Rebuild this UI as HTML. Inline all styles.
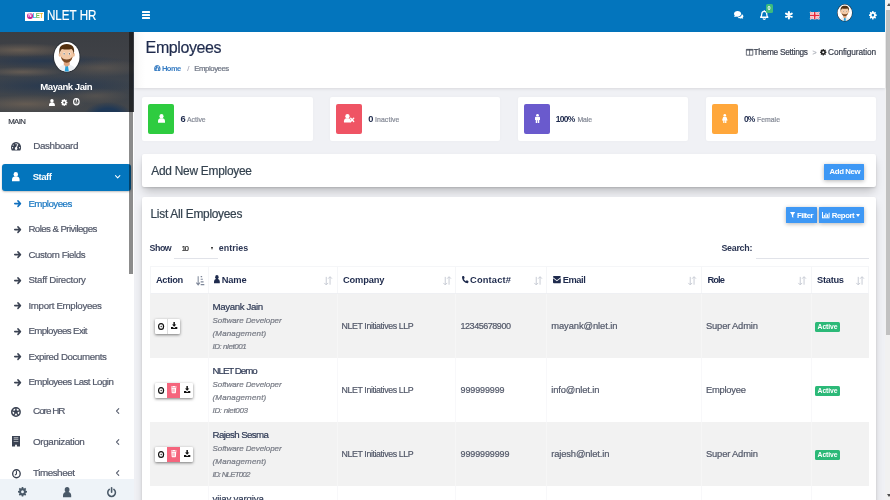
<!DOCTYPE html>
<html lang="en">
<head>
<meta charset="utf-8">
<title>NLET HR - Employees</title>
<style>
*{box-sizing:border-box;margin:0;padding:0}
html,body{width:890px;height:500px;overflow:hidden;background:#f0f1f5;font-family:"Liberation Sans",sans-serif;color:#2b3553}
svg{fill:currentColor;overflow:visible}
#app{position:relative;width:890px;height:500px;overflow:hidden}
#app div{position:absolute}
.burger i{display:block;height:1.7px;background:#fff;margin-bottom:1.3px;border-radius:.5px}
#prof{background:
 radial-gradient(ellipse 24px 13px at 108px 83px,#1f3856 50%,rgba(31,56,86,0) 100%),
 radial-gradient(ellipse 52px 7px at 20px 18px,rgba(120,104,88,.7),rgba(120,104,88,0) 100%),
 radial-gradient(ellipse 42px 5px at 22px 40px,rgba(120,104,88,.65),rgba(120,104,88,0) 100%),
 radial-gradient(ellipse 45px 9px at 102px 36px,rgba(106,95,84,.55),rgba(106,95,84,0) 100%),
 radial-gradient(ellipse 60px 9px at 26px 72px,rgba(116,101,86,.7),rgba(116,101,86,0) 100%),
 radial-gradient(ellipse 34px 8px at 96px 64px,rgba(104,94,84,.5),rgba(104,94,84,0) 100%),
 radial-gradient(ellipse 80px 7px at 45px 29px,rgba(34,54,80,.8),rgba(34,54,80,0) 100%),
 radial-gradient(ellipse 85px 10px at 55px 54px,rgba(34,54,80,.8),rgba(34,54,80,0) 100%),
 linear-gradient(#3b3e43 0,#3f4146 30%,#3c434c 60%,#43464a 100%)}
.panel{background:#fff;border-radius:2px;box-shadow:0 1px 2px rgba(0,0,0,.12),0 6px 9px -2px rgba(0,0,0,.22)}
.card{background:#fff;border-radius:2px;box-shadow:0 0 3px rgba(0,0,0,.03)}
.btn{background:#3e98f5;border-radius:.5px;box-shadow:0 1px 4px rgba(0,0,0,.3)}
.bg{background:#fff;border-radius:1px;box-shadow:0 1px 3px rgba(0,0,0,.5);overflow:hidden}
</style>
</head>
<body>
<div id="app">
<div style="position:absolute;left:0px;top:0px;width:885px;height:32px;background:#0375bd"></div>
<div style="position:absolute;left:25px;top:11.8px;width:18.9px;height:9.2px;background:#fff"></div>
<div style="position:absolute;left:27px;top:13.1px;width:5.6px;height:5.8px;background:radial-gradient(circle at 40% 35%,#d63aa6,#b0128a);border-radius:50%;color:#fff;font-size:4.6px;line-height:5.8px;font-weight:bold;text-align:center">N</div>
<div style="position:absolute;left:32.6px;top:12.4px;width:10.2px;height:8px;font-size:6.3px;line-height:8px;font-weight:bold;white-space:nowrap;letter-spacing:-.6px;color:transparent;background:linear-gradient(90deg,#2fb3e6 0,#2fb3e6 30%,#6cc24a 36%,#6cc24a 62%,#f2b630 70%,#f2b630 100%);-webkit-background-clip:text;background-clip:text">LET</div>
<div style="position:absolute;left:47.0px;top:7px;font-size:13.8px;line-height:18px;color:#fff;white-space:nowrap;-webkit-text-stroke:0.2px currentColor;transform:scaleX(0.840);transform-origin:0 50%;">NLET HR</div>
<div class="burger" style="left:142px;top:11px;width:8.3px;height:8px"><i></i><i></i><i></i></div>
<svg viewBox="0.50 1.00 17.00 13.62" preserveAspectRatio="none" style="position:absolute;left:733.6px;top:11.1px;width:9.4px;height:7.8px;color:#fff;fill:#fff;"><path d="M7 1C3.400 1 .5 3.200.5 6c0 1.200.5 2.300 1.400 3.100C1.600 10.200.8 11 .6 11.300c.9.200 2.400-.2 3.500-.9.900.4 1.900.6 2.900.6 3.600 0 6.500-2.200 6.500-5S10.600 1 7 1z"/><path d="M14.600 6.600c1.700.6 2.900 2 2.900 3.500 0 1-.5 1.900-1.200 2.600.3 1 .8 1.600 1.100 1.900-.9.200-2.200-.2-3.200-.8-.7.300-1.500.4-2.300.4-2 0-3.700-.8-4.700-2.100 4.300-.1 7.200-2.600 7.400-5.500z"/></svg>
<svg viewBox="0.25 0.06 15.50 17.94" preserveAspectRatio="none" style="position:absolute;left:759.7px;top:9.9px;width:8.5px;height:9.9px;color:#fff;fill:#fff;"><path d="M8 1.200v1.200M8 2.400c-3 0-4.600 2.300-4.600 5.200 0 3.300-1 4.500-2 5.600h13.200c-1-1.100-2-2.300-2-5.600 0-2.900-1.600-5.200-4.600-5.200z" fill="none" stroke="currentColor" stroke-width="2.300" stroke-linejoin="round" stroke-linecap="round"/><path d="M6 15a2 2 0 004 0" fill="none" stroke="currentColor" stroke-width="2"/></svg>
<div style="position:absolute;left:765.5px;top:4px;width:7.2px;height:8.6px;border-radius:1.5px;background:#3dbb7d;color:#fff;font-size:5.5px;line-height:8.6px;font-weight:bold;text-align:center">0</div>
<svg viewBox="0.38 -0.50 15.25 17.00" preserveAspectRatio="none" style="position:absolute;left:785.2px;top:10.8px;width:7.8px;height:8.4px;color:#fff;fill:#fff;"><path d="M8 1.500v13M2.400 4.700l11.200 6.600M2.400 11.300l11.200-6.600" fill="none" stroke="currentColor" stroke-width="4" stroke-linecap="round"/></svg>
<svg style="position:absolute;left:810.4px;top:12px;width:9.4px;height:7.2px" viewBox="0 0 18 14" preserveAspectRatio="none"><rect width="18" height="14" fill="#f3b5bb"/><path d="M0 0l18 14M18 0L0 14" stroke="#fff" stroke-width="2.500"/><path d="M0 0l18 14M18 0L0 14" stroke="#e23b4a" stroke-width="1"/><path d="M9 0v14M0 7h18" stroke="#fff" stroke-width="5"/><path d="M9 0v14M0 7h18" stroke="#e8283c" stroke-width="3"/></svg>
<svg viewBox="0 0 28 31" preserveAspectRatio="none" style="position:absolute;left:836.8px;top:4.3px;width:15.6px;height:17.6px;"><clipPath id="fclip1"><ellipse cx="14" cy="15.500" rx="13" ry="14.500"/></clipPath> <ellipse cx="14" cy="15.500" rx="14" ry="15.500" fill="#2c3138"/> <ellipse cx="14" cy="15.500" rx="13" ry="14.500" fill="#fff"/> <g clip-path="url(#fclip1)"> <path d="M4.500 31c0-5 3.500-8 9.500-8s9.500 3 9.500 8z" fill="#eceff3"/> <path d="M12.900 23.500h2.200l1.200 7.500h-4.600z" fill="#26a0da"/> <path d="M11 19h6v4.500l-3 1.800-3-1.800z" fill="#e0a57f"/> <ellipse cx="14" cy="12.800" rx="6.800" ry="7.800" fill="#f2c9a7"/> <ellipse cx="7" cy="13.500" rx="1.300" ry="2" fill="#eebf9a"/><ellipse cx="21" cy="13.500" rx="1.300" ry="2" fill="#eebf9a"/> <path d="M6.800 13C5.300 6.500 8.200 3 14 3s8.700 3.500 7.200 10c-.4-2.500-1.200-4.100-2.300-5.200-3.300.8-6.500.8-9.800 0-1.100 1.100-1.900 2.700-2.300 5.200z" fill="#53300f"/> <path d="M8.200 15.300c.6 3.900 2.800 6 5.800 6s5.200-2.100 5.800-6c-1.100 2.100-3 2.900-5.800 2.900s-4.700-.8-5.800-2.900z" fill="#7a4a26"/> <ellipse cx="11.300" cy="12.500" rx="1.100" ry="1.200" fill="#fff"/><ellipse cx="16.700" cy="12.500" rx="1.100" ry="1.200" fill="#fff"/> <circle cx="11.300" cy="12.600" r=".7" fill="#2d2d2d"/><circle cx="16.700" cy="12.600" r=".7" fill="#2d2d2d"/> </g></svg>
<svg viewBox="0.12 0.12 15.75 15.75" preserveAspectRatio="none" style="position:absolute;left:868.9px;top:10.8px;width:7.7px;height:8.4px;color:#fff;fill:#fff;"><path fill-rule="evenodd" d="M6.43 2.11L6.65 0.12L9.35 0.12L9.57 2.11L11.06 2.72L12.62 1.47L14.53 3.38L13.28 4.94L13.89 6.43L15.88 6.65L15.88 9.35L13.89 9.57L13.28 11.06L14.53 12.62L12.62 14.53L11.06 13.28L9.57 13.89L9.35 15.88L6.65 15.88L6.43 13.89L4.94 13.28L3.38 14.53L1.47 12.62L2.72 11.06L2.11 9.57L0.12 9.35L0.12 6.65L2.11 6.43L2.72 4.94L1.47 3.38L3.38 1.47L4.94 2.72zM8 5.5a2.5 2.5 0 100 5.0a2.5 2.5 0 100 -5.0z"/></svg>
<div style="position:absolute;left:885px;top:0px;width:5px;height:500px;background:#f1f1f1"></div>
<div style="position:absolute;left:886px;top:10px;width:4px;height:325px;background:#c1c1c1"></div>
<div style="position:absolute;left:886.5px;top:3px;width:0px;height:0px;border:2.5px solid transparent;border-top:0;border-bottom:3px solid #505050"></div>
<div style="position:absolute;left:886.5px;top:494px;width:0px;height:0px;border:2.5px solid transparent;border-bottom:0;border-top:3px solid #505050"></div>
<div style="position:absolute;left:0px;top:32px;width:133.5px;height:468px;background:#fff"></div>
<div id="prof" style="left:0;top:32px;width:133.5px;height:80px;overflow:hidden"></div>
<svg viewBox="0 0 28 31" preserveAspectRatio="none" style="position:absolute;left:52.7px;top:41.0px;width:27.5px;height:31.6px;"><clipPath id="fclip2"><ellipse cx="14" cy="15.500" rx="13" ry="14.500"/></clipPath> <ellipse cx="14" cy="15.500" rx="14" ry="15.500" fill="#2c3138"/> <ellipse cx="14" cy="15.500" rx="13" ry="14.500" fill="#fff"/> <g clip-path="url(#fclip2)"> <path d="M4.500 31c0-5 3.500-8 9.500-8s9.500 3 9.500 8z" fill="#eceff3"/> <path d="M12.900 23.500h2.200l1.200 7.500h-4.600z" fill="#26a0da"/> <path d="M11 19h6v4.500l-3 1.800-3-1.800z" fill="#e0a57f"/> <ellipse cx="14" cy="12.800" rx="6.800" ry="7.800" fill="#f2c9a7"/> <ellipse cx="7" cy="13.500" rx="1.300" ry="2" fill="#eebf9a"/><ellipse cx="21" cy="13.500" rx="1.300" ry="2" fill="#eebf9a"/> <path d="M6.800 13C5.300 6.500 8.200 3 14 3s8.700 3.500 7.200 10c-.4-2.500-1.200-4.100-2.300-5.200-3.300.8-6.500.8-9.800 0-1.100 1.100-1.900 2.700-2.300 5.200z" fill="#53300f"/> <path d="M8.200 15.300c.6 3.900 2.800 6 5.800 6s5.200-2.100 5.800-6c-1.100 2.100-3 2.900-5.800 2.900s-4.700-.8-5.800-2.900z" fill="#7a4a26"/> <ellipse cx="11.300" cy="12.500" rx="1.100" ry="1.200" fill="#fff"/><ellipse cx="16.700" cy="12.500" rx="1.100" ry="1.200" fill="#fff"/> <circle cx="11.300" cy="12.600" r=".7" fill="#2d2d2d"/><circle cx="16.700" cy="12.600" r=".7" fill="#2d2d2d"/> </g></svg>
<div style="position:absolute;left:40.3px;top:80px;font-size:9.6px;line-height:13px;color:#fff;white-space:nowrap;letter-spacing:-0.48px;font-weight:bold;">Mayank Jain</div>
<svg viewBox="1.00 0.31 14.00 15.69" preserveAspectRatio="none" style="position:absolute;left:49.2px;top:98.8px;width:5.9px;height:7.1px;color:#fff;fill:#fff;"><circle cx="8" cy="4.400" r="4.100"/><path d="M1 16v-2.600C1 10 3.400 8 6 8h4c2.600 0 5 2 5 5.400V16z"/></svg>
<svg viewBox="0.12 0.12 15.75 15.75" preserveAspectRatio="none" style="position:absolute;left:60.6px;top:98.8px;width:6.4px;height:7.1px;color:#fff;fill:#fff;"><path fill-rule="evenodd" d="M6.43 2.11L6.65 0.12L9.35 0.12L9.57 2.11L11.06 2.72L12.62 1.47L14.53 3.38L13.28 4.94L13.89 6.43L15.88 6.65L15.88 9.35L13.89 9.57L13.28 11.06L14.53 12.62L12.62 14.53L11.06 13.28L9.57 13.89L9.35 15.88L6.65 15.88L6.43 13.89L4.94 13.28L3.38 14.53L1.47 12.62L2.72 11.06L2.11 9.57L0.12 9.35L0.12 6.65L2.11 6.43L2.72 4.94L1.47 3.38L3.38 1.47L4.94 2.72zM8 5.5a2.5 2.5 0 100 5.0a2.5 2.5 0 100 -5.0z"/></svg>
<svg viewBox="0.00 0.00 16.00 16.00" preserveAspectRatio="none" style="position:absolute;left:72.7px;top:98.3px;width:6.7px;height:7.6px;color:#fff;fill:#fff;"><path fill-rule="evenodd" d="M8 0a8 8 0 100 16A8 8 0 008 0zm0 2.800a5.200 5.200 0 110 10.400A5.200 5.200 0 018 2.800z"/><path d="M6.800 1.500h2.400v6.200H6.800z"/><path d="M4.200 9.500a4 4 0 007.600 0z" opacity=".55"/></svg>
<div style="position:absolute;left:8.3px;top:116px;font-size:7.8px;line-height:11px;color:#3a3f4a;white-space:nowrap;letter-spacing:-0.67px;-webkit-text-stroke:0.2px currentColor;">MAIN</div>
<svg viewBox="0.00 1.50 16.00 12.50" preserveAspectRatio="none" style="position:absolute;left:11.2px;top:141.9px;width:10.1px;height:8.5px;color:#3a4252;fill:#3a4252;"><path fill-rule="evenodd" d="M8 1.500a8 8 0 00-6.900 12c.2.300.5.500.9.500h12c.4 0 .7-.2.900-.500A8 8 0 008 1.500zM8 3a1 1 0 110 2 1 1 0 010-2zM3.500 5a1 1 0 110 2 1 1 0 010-2zM2.500 9a1 1 0 110 2 1 1 0 010-2zm11 0a1 1 0 110 2 1 1 0 010-2zM11.800 4.200l-2.300 5.400a2 2 0 11-1.400-.6l2.300-5.400z"/></svg>
<div style="position:absolute;left:33.2px;top:139px;font-size:9.9px;line-height:13px;color:#525869;white-space:nowrap;letter-spacing:-0.38px;-webkit-text-stroke:0.2px currentColor;">Dashboard</div>
<div style="position:absolute;left:2.2px;top:164.2px;width:128.6px;height:26.5px;background:#0375bd;border-radius:3px;box-shadow:0 1px 2px rgba(0,0,0,.25)"></div>
<svg viewBox="1.00 0.31 14.00 15.69" preserveAspectRatio="none" style="position:absolute;left:12.4px;top:171.7px;width:7.6px;height:9.3px;color:#fff;fill:#fff;"><circle cx="8" cy="4.400" r="4.100"/><path d="M1 16v-2.600C1 10 3.400 8 6 8h4c2.600 0 5 2 5 5.400V16z"/></svg>
<div style="position:absolute;left:32.7px;top:170px;font-size:9.5px;line-height:13px;color:#fff;white-space:nowrap;letter-spacing:-0.48px;font-weight:bold;">Staff</div>
<svg viewBox="1.81 4.31 12.38 7.38" preserveAspectRatio="none" style="position:absolute;left:115.0px;top:175.3px;width:5.4px;height:3.4px;color:#fff;fill:#fff;"><path d="M3 5.500l5 5 5-5" fill="none" stroke="currentColor" stroke-width="2.400" stroke-linecap="round" stroke-linejoin="round"/></svg>
<svg viewBox="-0.12 0.88 15.75 14.25" preserveAspectRatio="none" style="position:absolute;left:14.4px;top:200.1px;width:7.2px;height:7.2px;color:#0f6fbe;fill:#0f6fbe;"><path d="M1.500 8h12M8.500 2.500L14 8l-5.500 5.500" fill="none" stroke="currentColor" stroke-width="3.300" stroke-linecap="round" stroke-linejoin="round"/></svg>
<div style="position:absolute;left:28.4px;top:197px;font-size:9.7px;line-height:13px;color:#1a78c2;white-space:nowrap;letter-spacing:-0.50px;-webkit-text-stroke:0.2px currentColor;">Employees</div>
<svg viewBox="-0.12 0.88 15.75 14.25" preserveAspectRatio="none" style="position:absolute;left:14.4px;top:225.6px;width:7.2px;height:7.2px;color:#3a4252;fill:#3a4252;"><path d="M1.500 8h12M8.500 2.500L14 8l-5.500 5.500" fill="none" stroke="currentColor" stroke-width="3.300" stroke-linecap="round" stroke-linejoin="round"/></svg>
<div style="position:absolute;left:28.4px;top:222px;font-size:9.7px;line-height:13px;color:#525869;white-space:nowrap;letter-spacing:-0.57px;-webkit-text-stroke:0.2px currentColor;">Roles &amp; Privileges</div>
<svg viewBox="-0.12 0.88 15.75 14.25" preserveAspectRatio="none" style="position:absolute;left:14.4px;top:251.2px;width:7.2px;height:7.2px;color:#3a4252;fill:#3a4252;"><path d="M1.500 8h12M8.500 2.500L14 8l-5.500 5.500" fill="none" stroke="currentColor" stroke-width="3.300" stroke-linecap="round" stroke-linejoin="round"/></svg>
<div style="position:absolute;left:28.4px;top:248px;font-size:9.7px;line-height:13px;color:#525869;white-space:nowrap;letter-spacing:-0.40px;-webkit-text-stroke:0.2px currentColor;">Custom Fields</div>
<svg viewBox="-0.12 0.88 15.75 14.25" preserveAspectRatio="none" style="position:absolute;left:14.4px;top:276.7px;width:7.2px;height:7.2px;color:#3a4252;fill:#3a4252;"><path d="M1.500 8h12M8.500 2.500L14 8l-5.500 5.500" fill="none" stroke="currentColor" stroke-width="3.300" stroke-linecap="round" stroke-linejoin="round"/></svg>
<div style="position:absolute;left:28.4px;top:273px;font-size:9.7px;line-height:13px;color:#525869;white-space:nowrap;letter-spacing:-0.26px;-webkit-text-stroke:0.2px currentColor;">Staff Directory</div>
<svg viewBox="-0.12 0.88 15.75 14.25" preserveAspectRatio="none" style="position:absolute;left:14.4px;top:302.2px;width:7.2px;height:7.2px;color:#3a4252;fill:#3a4252;"><path d="M1.500 8h12M8.500 2.500L14 8l-5.500 5.500" fill="none" stroke="currentColor" stroke-width="3.300" stroke-linecap="round" stroke-linejoin="round"/></svg>
<div style="position:absolute;left:28.4px;top:299px;font-size:9.7px;line-height:13px;color:#525869;white-space:nowrap;letter-spacing:-0.30px;-webkit-text-stroke:0.2px currentColor;">Import Employees</div>
<svg viewBox="-0.12 0.88 15.75 14.25" preserveAspectRatio="none" style="position:absolute;left:14.4px;top:327.8px;width:7.2px;height:7.2px;color:#3a4252;fill:#3a4252;"><path d="M1.500 8h12M8.500 2.500L14 8l-5.500 5.500" fill="none" stroke="currentColor" stroke-width="3.300" stroke-linecap="round" stroke-linejoin="round"/></svg>
<div style="position:absolute;left:28.4px;top:324px;font-size:9.7px;line-height:13px;color:#525869;white-space:nowrap;letter-spacing:-0.59px;-webkit-text-stroke:0.2px currentColor;">Employees Exit</div>
<svg viewBox="-0.12 0.88 15.75 14.25" preserveAspectRatio="none" style="position:absolute;left:14.4px;top:353.3px;width:7.2px;height:7.2px;color:#3a4252;fill:#3a4252;"><path d="M1.500 8h12M8.500 2.500L14 8l-5.500 5.500" fill="none" stroke="currentColor" stroke-width="3.300" stroke-linecap="round" stroke-linejoin="round"/></svg>
<div style="position:absolute;left:28.4px;top:350px;font-size:9.7px;line-height:13px;color:#525869;white-space:nowrap;letter-spacing:-0.38px;-webkit-text-stroke:0.2px currentColor;">Expired Documents</div>
<svg viewBox="-0.12 0.88 15.75 14.25" preserveAspectRatio="none" style="position:absolute;left:14.4px;top:378.8px;width:7.2px;height:7.2px;color:#3a4252;fill:#3a4252;"><path d="M1.500 8h12M8.500 2.500L14 8l-5.500 5.500" fill="none" stroke="currentColor" stroke-width="3.300" stroke-linecap="round" stroke-linejoin="round"/></svg>
<div style="position:absolute;left:28.4px;top:375px;font-size:9.7px;line-height:13px;color:#525869;white-space:nowrap;letter-spacing:-0.52px;-webkit-text-stroke:0.2px currentColor;">Employees Last Login</div>
<svg viewBox="0.00 0.00 16.00 16.00" preserveAspectRatio="none" style="position:absolute;left:11.1px;top:406.5px;width:9.9px;height:9.9px;color:#3a4252;fill:#3a4252;"><circle cx="8" cy="8" r="6.800" fill="none" stroke="currentColor" stroke-width="2.400"/><path d="M8 4.200l3.600 2.600-1.400 4.200H5.800L4.400 6.800z"/><path d="M8 1v3.800M1.400 6L5 7M14.600 6L11 7M3.800 13.800l2.300-3.300M12.200 13.800l-2.300-3.300" fill="none" stroke="currentColor" stroke-width="2.200"/></svg>
<div style="position:absolute;left:33.0px;top:404px;font-size:9.9px;line-height:13px;color:#525869;white-space:nowrap;letter-spacing:-1.00px;-webkit-text-stroke:0.2px currentColor;">Core HR</div>
<svg viewBox="3.69 1.19 8.12 13.62" preserveAspectRatio="none" style="position:absolute;left:115.9px;top:408.4px;width:3.3px;height:6px;color:#5a6070;fill:#5a6070;"><path d="M10.500 2.500L5 8l5.500 5.500" fill="none" stroke="currentColor" stroke-width="2.600" stroke-linecap="round" stroke-linejoin="round"/></svg>
<svg viewBox="2.50 0.50 11.00 15.00" preserveAspectRatio="none" style="position:absolute;left:12.0px;top:436.4px;width:8px;height:10.4px;color:#3a4252;fill:#3a4252;"><path fill-rule="evenodd" d="M2.500 0.500h11v15h-11zM4.800 2.800v.9h6.400v-.9zm0 2.600v.9h6.400v-.9zm0 2.600v.9h6.400V8zM6.800 13v2.500h2.400V13z"/></svg>
<div style="position:absolute;left:33.0px;top:435px;font-size:9.9px;line-height:13px;color:#525869;white-space:nowrap;letter-spacing:-0.38px;-webkit-text-stroke:0.2px currentColor;">Organization</div>
<svg viewBox="3.69 1.19 8.12 13.62" preserveAspectRatio="none" style="position:absolute;left:115.9px;top:439.0px;width:3.3px;height:6px;color:#5a6070;fill:#5a6070;"><path d="M10.500 2.500L5 8l5.500 5.500" fill="none" stroke="currentColor" stroke-width="2.600" stroke-linecap="round" stroke-linejoin="round"/></svg>
<svg viewBox="0.44 0.44 15.12 15.12" preserveAspectRatio="none" style="position:absolute;left:11.5px;top:468.5px;width:8.9px;height:9.5px;color:#3a4252;fill:#3a4252;"><circle cx="8" cy="8" r="6.400" fill="none" stroke="currentColor" stroke-width="2.300"/><path d="M8 4.200V8.400L6 9.800" fill="none" stroke="currentColor" stroke-width="1.900" stroke-linecap="round"/></svg>
<div style="position:absolute;left:33.0px;top:466px;font-size:9.9px;line-height:13px;color:#525869;white-space:nowrap;letter-spacing:-0.48px;-webkit-text-stroke:0.2px currentColor;">Timesheet</div>
<svg viewBox="3.69 1.19 8.12 13.62" preserveAspectRatio="none" style="position:absolute;left:115.9px;top:470.0px;width:3.3px;height:6px;color:#5a6070;fill:#5a6070;"><path d="M10.500 2.500L5 8l5.500 5.500" fill="none" stroke="currentColor" stroke-width="2.600" stroke-linecap="round" stroke-linejoin="round"/></svg>
<div style="position:absolute;left:129.3px;top:32px;width:4.2px;height:242px;background:rgba(0,0,0,.45)"></div>
<div style="position:absolute;left:0px;top:479px;width:133.5px;height:21px;background:#eef3f8"></div>
<svg viewBox="0.12 0.12 15.75 15.75" preserveAspectRatio="none" style="position:absolute;left:17.5px;top:487.2px;width:9px;height:9.6px;color:#4a5968;fill:#4a5968;"><path fill-rule="evenodd" d="M6.43 2.11L6.65 0.12L9.35 0.12L9.57 2.11L11.06 2.72L12.62 1.47L14.53 3.38L13.28 4.94L13.89 6.43L15.88 6.65L15.88 9.35L13.89 9.57L13.28 11.06L14.53 12.62L12.62 14.53L11.06 13.28L9.57 13.89L9.35 15.88L6.65 15.88L6.43 13.89L4.94 13.28L3.38 14.53L1.47 12.62L2.72 11.06L2.11 9.57L0.12 9.35L0.12 6.65L2.11 6.43L2.72 4.94L1.47 3.38L3.38 1.47L4.94 2.72zM8 5.5a2.5 2.5 0 100 5.0a2.5 2.5 0 100 -5.0z"/></svg>
<svg viewBox="1.00 0.31 14.00 15.69" preserveAspectRatio="none" style="position:absolute;left:62.6px;top:486.5px;width:8.2px;height:10.2px;color:#4a5968;fill:#4a5968;"><circle cx="8" cy="4.400" r="4.100"/><path d="M1 16v-2.600C1 10 3.400 8 6 8h4c2.600 0 5 2 5 5.400V16z"/></svg>
<svg viewBox="0.56 -0.50 14.88 16.19" preserveAspectRatio="none" style="position:absolute;left:106.7px;top:486.6px;width:9.2px;height:10.2px;color:#4a5968;fill:#4a5968;"><path d="M8 0.800v7" fill="none" stroke="currentColor" stroke-width="2.600" stroke-linecap="round"/><path d="M4.300 3.300a6.200 6.200 0 107.400 0" fill="none" stroke="currentColor" stroke-width="2.500" stroke-linecap="round"/></svg>
<div style="position:absolute;left:133.5px;top:32px;width:751.5px;height:55.5px;background:linear-gradient(90deg,#f3f3f3 0,#fbfbfb 5px,#fff 11px);box-shadow:0 1px 3px rgba(0,0,0,.1)"></div>
<div style="position:absolute;left:145.6px;top:37px;font-size:16.0px;line-height:21px;color:#1f2b4d;white-space:nowrap;letter-spacing:-0.39px;-webkit-text-stroke:0.2px currentColor;">Employees</div>
<svg viewBox="0.00 1.50 16.00 12.50" preserveAspectRatio="none" style="position:absolute;left:154.0px;top:65.3px;width:6.6px;height:6px;color:#3b7fc4;fill:#3b7fc4;"><path fill-rule="evenodd" d="M8 1.500a8 8 0 00-6.900 12c.2.300.5.500.9.500h12c.4 0 .7-.2.900-.500A8 8 0 008 1.500zM8 3a1 1 0 110 2 1 1 0 010-2zM3.500 5a1 1 0 110 2 1 1 0 010-2zM2.500 9a1 1 0 110 2 1 1 0 010-2zm11 0a1 1 0 110 2 1 1 0 010-2zM11.800 4.200l-2.300 5.400a2 2 0 11-1.400-.6l2.300-5.400z"/></svg>
<div style="position:absolute;left:162.0px;top:64px;font-size:7.6px;line-height:10px;color:#3b7fc4;white-space:nowrap;letter-spacing:-0.61px;font-weight:bold;">Home</div>
<div style="position:absolute;left:187.3px;top:64px;font-size:7.6px;line-height:10px;color:#aab;white-space:nowrap;-webkit-text-stroke:0.2px currentColor;">/</div>
<div style="position:absolute;left:194.3px;top:63px;font-size:7.8px;line-height:11px;color:#6b7280;white-space:nowrap;letter-spacing:-0.45px;-webkit-text-stroke:0.2px currentColor;">Employees</div>
<svg viewBox="0.44 1.44 15.12 13.12" preserveAspectRatio="none" style="position:absolute;left:745.7px;top:49.0px;width:7.2px;height:6.6px;color:#3c4250;fill:#3c4250;"><path d="M1.200 2.200h13.600v11.600H1.200zM8 2.200v11.600" fill="none" stroke="currentColor" stroke-width="1.500"/><path d="M1.200 2.200h13.600v2.200H1.200z"/></svg>
<div style="position:absolute;left:753.5px;top:47px;font-size:8.3px;line-height:11px;color:#3c4250;white-space:nowrap;letter-spacing:-0.28px;-webkit-text-stroke:0.2px currentColor;">Theme Settings</div>
<div style="position:absolute;left:812.5px;top:48px;font-size:7.0px;line-height:10px;color:#b0b4bc;white-space:nowrap;-webkit-text-stroke:0.2px currentColor;">&gt;</div>
<svg viewBox="0.12 0.12 15.75 15.75" preserveAspectRatio="none" style="position:absolute;left:820.2px;top:49.2px;width:6.5px;height:6.5px;color:#222;fill:#222;"><path fill-rule="evenodd" d="M6.43 2.11L6.65 0.12L9.35 0.12L9.57 2.11L11.06 2.72L12.62 1.47L14.53 3.38L13.28 4.94L13.89 6.43L15.88 6.65L15.88 9.35L13.89 9.57L13.28 11.06L14.53 12.62L12.62 14.53L11.06 13.28L9.57 13.89L9.35 15.88L6.65 15.88L6.43 13.89L4.94 13.28L3.38 14.53L1.47 12.62L2.72 11.06L2.11 9.57L0.12 9.35L0.12 6.65L2.11 6.43L2.72 4.94L1.47 3.38L3.38 1.47L4.94 2.72zM8 5.5a2.5 2.5 0 100 5.0a2.5 2.5 0 100 -5.0z"/></svg>
<div style="position:absolute;left:828.0px;top:47px;font-size:8.3px;line-height:11px;color:#3c4250;white-space:nowrap;letter-spacing:-0.11px;-webkit-text-stroke:0.2px currentColor;">Configuration</div>
<div class="card" style="left:142px;top:97.4px;width:170.5px;height:43.6px"></div>
<div style="position:absolute;left:148.3px;top:103.9px;width:25.8px;height:30.6px;background:#2ecc40;border-radius:2px"></div>
<svg viewBox="1.00 0.31 14.00 15.69" preserveAspectRatio="none" style="position:absolute;left:158.0px;top:114.2px;width:7px;height:8.8px;color:#fff;fill:#fff;"><circle cx="8" cy="4.400" r="4.100"/><path d="M1 16v-2.600C1 10 3.400 8 6 8h4c2.600 0 5 2 5 5.400V16z"/></svg>
<div style="position:absolute;left:180.4px;top:113px;font-size:9.3px;line-height:13px;color:#1f2b4d;white-space:nowrap;font-weight:bold;">6</div>
<div style="position:absolute;left:187.0px;top:115px;font-size:6.9px;line-height:9px;color:#868b97;white-space:nowrap;letter-spacing:-0.02px;-webkit-text-stroke:0.2px currentColor;">Active</div>
<div class="card" style="left:329.9px;top:97.4px;width:170.5px;height:43.6px"></div>
<div style="position:absolute;left:336.2px;top:103.9px;width:25.8px;height:30.6px;background:#ef5464;border-radius:2px"></div>
<svg viewBox="0.50 0.31 19.62 15.69" preserveAspectRatio="none" style="position:absolute;left:343.8px;top:114.3px;width:10.4px;height:8.6px;color:#fff;fill:#fff;"><circle cx="7" cy="4.400" r="4.100"/><path d="M.5 16v-2.600C.5 10 2.800 8 5 8h4c2.200 0 4.500 2 4.500 5.400V16z"/><path d="M13.200 8.200l5.600 5.600M18.800 8.200l-5.600 5.600" fill="none" stroke="currentColor" stroke-width="2.600" stroke-linecap="round"/></svg>
<div style="position:absolute;left:368.3px;top:113px;font-size:9.3px;line-height:13px;color:#1f2b4d;white-space:nowrap;font-weight:bold;">0</div>
<div style="position:absolute;left:375.0px;top:115px;font-size:6.9px;line-height:9px;color:#868b97;white-space:nowrap;letter-spacing:0.09px;-webkit-text-stroke:0.2px currentColor;">Inactive</div>
<div class="card" style="left:517.8px;top:97.4px;width:170.5px;height:43.6px"></div>
<div style="position:absolute;left:524.0999999999999px;top:103.9px;width:25.8px;height:30.6px;background:#6a5acd;border-radius:2px"></div>
<svg viewBox="1.00 0.00 8.00 16.00" preserveAspectRatio="none" style="position:absolute;left:534.5px;top:114.4px;width:5px;height:9px;color:#fff;fill:#fff;"><circle cx="5" cy="2.200" r="2.200"/><path d="M2.600 4.800h4.800c1 0 1.600.7 1.600 1.600v4.200H7.800V16H5.500v-4.800h-1V16H2.200v-5.400H1V6.400c0-.9.600-1.600 1.600-1.600z"/></svg>
<div style="position:absolute;left:555.7px;top:113px;font-size:8.5px;line-height:12px;color:#1f2b4d;white-space:nowrap;letter-spacing:-0.71px;font-weight:bold;">100%</div>
<div style="position:absolute;left:577.4px;top:115px;font-size:6.9px;line-height:9px;color:#868b97;white-space:nowrap;letter-spacing:-0.05px;-webkit-text-stroke:0.2px currentColor;">Male</div>
<div class="card" style="left:705.6px;top:97.4px;width:170.5px;height:43.6px"></div>
<div style="position:absolute;left:711.9px;top:103.9px;width:25.8px;height:30.6px;background:#ffa73b;border-radius:2px"></div>
<svg viewBox="0.25 0.00 9.50 16.00" preserveAspectRatio="none" style="position:absolute;left:722.2px;top:114.4px;width:5.6px;height:9px;color:#fff;fill:#fff;"><circle cx="5" cy="2.200" r="2.200"/><path d="M3.400 4.800h3.200c.8 0 1.300.5 1.500 1.200l1.700 5.400H7.700V16H5.500v-4.600h-1V16H2.300v-4.600H.2l1.700-5.400c.2-.7.700-1.200 1.500-1.200z"/></svg>
<div style="position:absolute;left:744.0px;top:113px;font-size:8.5px;line-height:12px;color:#1f2b4d;white-space:nowrap;letter-spacing:-1.00px;font-weight:bold;">0%</div>
<div style="position:absolute;left:757.0px;top:115px;font-size:6.9px;line-height:9px;color:#868b97;white-space:nowrap;-webkit-text-stroke:0.2px currentColor;">Female</div>
<div class="panel" style="left:142px;top:154.3px;width:734.3px;height:32.9px"></div>
<div style="position:absolute;left:151.3px;top:163px;font-size:11.9px;line-height:16px;color:#34424f;white-space:nowrap;letter-spacing:-0.25px;-webkit-text-stroke:0.2px currentColor;">Add New Employee</div>
<div class="btn" style="left:824.3px;top:164px;width:39.6px;height:16px"></div>
<div style="position:absolute;left:829.6px;top:166px;font-size:7.8px;line-height:11px;color:#fff;white-space:nowrap;letter-spacing:-0.39px;font-weight:bold;">Add New</div>
<div class="panel" style="left:142px;top:197.3px;width:734.3px;height:320px"></div>
<div style="position:absolute;left:150.5px;top:206px;font-size:11.9px;line-height:16px;color:#34424f;white-space:nowrap;letter-spacing:-0.27px;-webkit-text-stroke:0.2px currentColor;">List All Employees</div>
<div class="btn" style="left:786px;top:207px;width:30.8px;height:16.2px"></div>
<svg viewBox="0.81 1.50 14.38 13.00" preserveAspectRatio="none" style="position:absolute;left:790.0px;top:212.0px;width:5.2px;height:6px;color:#fff;fill:#fff;"><path d="M.8 1.500h14.400L9.800 8v6.500L6.200 12V8z"/></svg>
<div style="position:absolute;left:797.0px;top:210px;font-size:7.8px;line-height:11px;color:#fff;white-space:nowrap;letter-spacing:-0.51px;font-weight:bold;">Filter</div>
<div class="btn" style="left:818.9px;top:207px;width:45px;height:16.2px"></div>
<svg viewBox="1.00 1.50 14.00 13.00" preserveAspectRatio="none" style="position:absolute;left:821.8px;top:211.8px;width:7.6px;height:6.2px;color:#fff;fill:#fff;"><path d="M1 1.500h1.800v11.200H15v1.800H1z"/><path d="M4.300 8h2v3.800h-2zM7.300 4h2v7.800h-2zM10.300 6h2v5.800h-2zM13.300 3h1.700v8.800h-1.700z"/></svg>
<div style="position:absolute;left:831.8px;top:210px;font-size:7.8px;line-height:11px;color:#fff;white-space:nowrap;letter-spacing:-0.45px;font-weight:bold;">Report</div>
<div style="position:absolute;left:856.3px;top:213.8px;width:0px;height:0px;border:2.3px solid transparent;border-top:3px solid #fff;border-bottom:0"></div>
<div style="position:absolute;left:149.6px;top:242px;font-size:8.9px;line-height:12px;color:#2b3553;white-space:nowrap;letter-spacing:-0.51px;font-weight:bold;">Show</div>
<div style="position:absolute;left:174px;top:241px;width:43.5px;height:17.6px;border-bottom:1px solid #e1e3e9"></div>
<div style="position:absolute;left:181.7px;top:244px;font-size:7.4px;line-height:10px;color:#222;white-space:nowrap;letter-spacing:-1.00px;-webkit-text-stroke:0.2px currentColor;">10</div>
<div style="position:absolute;left:210.7px;top:247.4px;width:0px;height:0px;border:1.800px solid transparent;border-top:3px solid #222;border-bottom:0"></div>
<div style="position:absolute;left:218.8px;top:242px;font-size:8.9px;line-height:12px;color:#2b3553;white-space:nowrap;letter-spacing:0.05px;font-weight:bold;">entries</div>
<div style="position:absolute;left:721.4px;top:242px;font-size:8.9px;line-height:12px;color:#2b3553;white-space:nowrap;letter-spacing:-0.26px;font-weight:bold;">Search:</div>
<div style="position:absolute;left:756.4px;top:241px;width:112.3px;height:17.6px;border-bottom:1px solid #e1e3e9"></div>
<div style="position:absolute;left:149.5px;top:266px;width:719.3px;height:27.6px;background:#fff;border:1px solid #f5f6f8;border-bottom:1px solid #eff0f3"></div>
<div style="position:absolute;left:207.5px;top:266px;width:1px;height:27px;background:#f5f6f8"></div>
<div style="position:absolute;left:336.5px;top:266px;width:1px;height:27px;background:#f5f6f8"></div>
<div style="position:absolute;left:455.1px;top:266px;width:1px;height:27px;background:#f5f6f8"></div>
<div style="position:absolute;left:546.0px;top:266px;width:1px;height:27px;background:#f5f6f8"></div>
<div style="position:absolute;left:701.0px;top:266px;width:1px;height:27px;background:#f5f6f8"></div>
<div style="position:absolute;left:810.5px;top:266px;width:1px;height:27px;background:#f5f6f8"></div>
<div style="position:absolute;left:156.0px;top:274px;font-size:9.3px;line-height:13px;color:#1f2b4d;white-space:nowrap;letter-spacing:-0.35px;font-weight:bold;">Action</div>
<svg viewBox="0.50 1.25 11.50 12.56" preserveAspectRatio="none" style="position:absolute;left:195.5px;top:276.0px;width:8.3px;height:9.6px;color:#7d8698;fill:#7d8698;"><path d="M3.500 1.500v11M1 10l2.500 2.800L6 10" fill="none" stroke="currentColor" stroke-width="1.400"/><path d="M7 2h2M7 5.500h3M7 9h4M7 12.500h5" fill="none" stroke="currentColor" stroke-width="1.500"/></svg>
<svg viewBox="1.00 0.31 14.00 15.69" preserveAspectRatio="none" style="position:absolute;left:214.0px;top:275.3px;width:5.8px;height:8.2px;color:#1f2b4d;fill:#1f2b4d;"><circle cx="8" cy="4.400" r="4.100"/><path d="M1 16v-2.600C1 10 3.400 8 6 8h4c2.600 0 5 2 5 5.400V16z"/></svg>
<div style="position:absolute;left:221.8px;top:274px;font-size:9.3px;line-height:13px;color:#1f2b4d;white-space:nowrap;letter-spacing:-0.18px;font-weight:bold;">Name</div>
<svg viewBox="0.56 0.25 10.88 13.50" preserveAspectRatio="none" style="position:absolute;left:324.0px;top:276.0px;width:8.3px;height:9.6px;color:#c5cad3;fill:#c5cad3;"><path d="M3.500 1.500v11M1 10l2.500 2.800L6 10M8.500 12.500v-11M6 4l2.500-2.800L11 4" fill="none" stroke="currentColor" stroke-width="1.300"/></svg>
<div style="position:absolute;left:343.0px;top:274px;font-size:9.3px;line-height:13px;color:#1f2b4d;white-space:nowrap;letter-spacing:-0.15px;font-weight:bold;">Company</div>
<svg viewBox="0.56 0.25 10.88 13.50" preserveAspectRatio="none" style="position:absolute;left:442.5px;top:276.0px;width:8.3px;height:9.6px;color:#c5cad3;fill:#c5cad3;"><path d="M3.500 1.500v11M1 10l2.500 2.800L6 10M8.500 12.500v-11M6 4l2.500-2.800L11 4" fill="none" stroke="currentColor" stroke-width="1.300"/></svg>
<svg viewBox="1.50 1.19 13.44 13.31" preserveAspectRatio="none" style="position:absolute;left:462.0px;top:276.2px;width:6.5px;height:7.2px;color:#1f2b4d;fill:#1f2b4d;"><path d="M3.200.8l2.600-.6c.4-.1.700.1.900.4l1.200 2.800c.1.300 0 .7-.2.900L6.200 5.600c.9 1.900 2.400 3.400 4.300 4.300l1.300-1.500c.2-.3.600-.4.900-.2l2.800 1.200c.3.200.5.500.4.900l-.6 2.600c-.1.400-.4.600-.8.600C7.600 13.500 2.500 8.400 2.500 1.600c0-.4.300-.7.700-.8z" transform="translate(-1 1)"/></svg>
<div style="position:absolute;left:470.0px;top:274px;font-size:9.3px;line-height:13px;color:#1f2b4d;white-space:nowrap;letter-spacing:0.17px;font-weight:bold;">Contact#</div>
<svg viewBox="0.56 0.25 10.88 13.50" preserveAspectRatio="none" style="position:absolute;left:533.6px;top:276.0px;width:8.3px;height:9.6px;color:#c5cad3;fill:#c5cad3;"><path d="M3.500 1.500v11M1 10l2.500 2.800L6 10M8.500 12.500v-11M6 4l2.500-2.800L11 4" fill="none" stroke="currentColor" stroke-width="1.300"/></svg>
<svg viewBox="0.00 2.00 16.00 12.00" preserveAspectRatio="none" style="position:absolute;left:552.8px;top:276.2px;width:7.8px;height:7.2px;color:#1f2b4d;fill:#1f2b4d;"><path d="M0 3.600c0-.9.700-1.600 1.600-1.600h12.800c.9 0 1.600.7 1.600 1.600v.5L8 9 0 4.100z"/><path d="M0 5.900l8 4.900 8-4.900v6.500c0 .9-.7 1.600-1.600 1.600H1.600C.7 14 0 13.300 0 12.400z"/></svg>
<div style="position:absolute;left:562.7px;top:274px;font-size:9.3px;line-height:13px;color:#1f2b4d;white-space:nowrap;letter-spacing:-0.43px;font-weight:bold;">Email</div>
<svg viewBox="0.56 0.25 10.88 13.50" preserveAspectRatio="none" style="position:absolute;left:688.4px;top:276.0px;width:8.3px;height:9.6px;color:#c5cad3;fill:#c5cad3;"><path d="M3.500 1.500v11M1 10l2.500 2.800L6 10M8.500 12.500v-11M6 4l2.500-2.800L11 4" fill="none" stroke="currentColor" stroke-width="1.300"/></svg>
<div style="position:absolute;left:707.4px;top:274px;font-size:9.3px;line-height:13px;color:#1f2b4d;white-space:nowrap;letter-spacing:-0.85px;font-weight:bold;">Role</div>
<svg viewBox="0.56 0.25 10.88 13.50" preserveAspectRatio="none" style="position:absolute;left:798.0px;top:276.0px;width:8.3px;height:9.6px;color:#c5cad3;fill:#c5cad3;"><path d="M3.500 1.500v11M1 10l2.500 2.800L6 10M8.500 12.500v-11M6 4l2.500-2.800L11 4" fill="none" stroke="currentColor" stroke-width="1.300"/></svg>
<div style="position:absolute;left:817.0px;top:274px;font-size:9.3px;line-height:13px;color:#1f2b4d;white-space:nowrap;letter-spacing:-0.28px;font-weight:bold;">Status</div>
<svg viewBox="0.56 0.25 10.88 13.50" preserveAspectRatio="none" style="position:absolute;left:855.9px;top:276.0px;width:8.3px;height:9.6px;color:#c5cad3;fill:#c5cad3;"><path d="M3.500 1.500v11M1 10l2.500 2.800L6 10M8.500 12.500v-11M6 4l2.500-2.800L11 4" fill="none" stroke="currentColor" stroke-width="1.300"/></svg>
<div style="position:absolute;left:149.5px;top:294.3px;width:719.3px;height:64.2px;background:#f2f2f2"></div>
<div style="position:absolute;left:207.5px;top:294.3px;width:1px;height:64.2px;background:#f6f6f6"></div>
<div style="position:absolute;left:336.5px;top:294.3px;width:1px;height:64.2px;background:#f6f6f6"></div>
<div style="position:absolute;left:455.1px;top:294.3px;width:1px;height:64.2px;background:#f6f6f6"></div>
<div style="position:absolute;left:546.0px;top:294.3px;width:1px;height:64.2px;background:#f6f6f6"></div>
<div style="position:absolute;left:701.0px;top:294.3px;width:1px;height:64.2px;background:#f6f6f6"></div>
<div style="position:absolute;left:810.5px;top:294.3px;width:1px;height:64.2px;background:#f6f6f6"></div>
<div class="bg" style="left:154.6px;top:318.7px;width:25.7px;height:15.6px"><svg viewBox="0.50 0.50 15.00 15.00" preserveAspectRatio="none" style="position:absolute;left:3.2px;top:4.0px;width:6.2px;height:7.0px;color:#111;fill:#111;"><path fill-rule="evenodd" d="M8 .5a7.500 7.500 0 100 15 7.500 7.500 0 000-15zm0 2.800a4.700 4.700 0 110 9.400 4.700 4.700 0 010-9.400z"/><path d="M8.600 5.600L11.400 8l-2.800 2.400V8.800H5.500V7.200h3.100z" opacity=".8"/></svg><div style="position:absolute;left:12.5px;top:0px;width:0.7px;height:15.6px;background:#dcdcdc"></div><svg viewBox="0.81 0.81 14.38 14.38" preserveAspectRatio="none" style="position:absolute;left:16.4px;top:3.6px;width:6.3px;height:6.9px;color:#111;fill:#111;"><path d="M6.300.8h3.400v5H13L8 10.800 3 5.800h3.300z"/><path d="M.8 11h4.200l1.600 1.600c.8.800 2 .8 2.800 0L11 11h4.200v4.200H.8z"/></svg></div>
<div style="position:absolute;left:212.5px;top:300px;font-size:9.7px;line-height:13px;color:#2f3a55;white-space:nowrap;letter-spacing:-0.37px;-webkit-text-stroke:0.2px currentColor;">Mayank Jain</div>
<div style="position:absolute;left:212.5px;top:315px;font-size:8.0px;line-height:11px;color:#777b85;white-space:nowrap;letter-spacing:-0.07px;-webkit-text-stroke:0.2px currentColor;font-style:italic;">Software Developer</div>
<div style="position:absolute;left:212.5px;top:328px;font-size:8.0px;line-height:11px;color:#777b85;white-space:nowrap;letter-spacing:0.15px;-webkit-text-stroke:0.2px currentColor;font-style:italic;">(Management)</div>
<div style="position:absolute;left:212.5px;top:341px;font-size:8.0px;line-height:11px;color:#777b85;white-space:nowrap;letter-spacing:-0.46px;-webkit-text-stroke:0.2px currentColor;font-style:italic;">ID: nlet001</div>
<div style="position:absolute;left:341.6px;top:320px;font-size:8.8px;line-height:12px;color:#525869;white-space:nowrap;letter-spacing:-0.40px;-webkit-text-stroke:0.2px currentColor;">NLET Initiatives LLP</div>
<div style="position:absolute;left:460.5px;top:320px;font-size:9.0px;line-height:12px;color:#525869;white-space:nowrap;letter-spacing:-0.46px;-webkit-text-stroke:0.2px currentColor;">12345678900</div>
<div style="position:absolute;left:551.3px;top:319px;font-size:9.4px;line-height:13px;color:#525869;white-space:nowrap;letter-spacing:-0.10px;-webkit-text-stroke:0.2px currentColor;">mayank@nlet.in</div>
<div style="position:absolute;left:706.0px;top:319px;font-size:9.4px;line-height:13px;color:#525869;white-space:nowrap;letter-spacing:-0.18px;-webkit-text-stroke:0.2px currentColor;">Super Admin</div>
<div style="position:absolute;left:815.3px;top:321.8px;width:24.5px;height:10.3px;background:#2cb978;border-radius:1.5px"></div>
<div style="position:absolute;left:817.6px;top:322px;font-size:6.8px;line-height:9px;color:#fff;white-space:nowrap;letter-spacing:-0.08px;font-weight:bold;">Active</div>
<div style="position:absolute;left:149.5px;top:358.3px;width:719.3px;height:64.2px;background:#fff"></div>
<div style="position:absolute;left:207.5px;top:358.3px;width:1px;height:64.2px;background:#f8f8fa"></div>
<div style="position:absolute;left:336.5px;top:358.3px;width:1px;height:64.2px;background:#f8f8fa"></div>
<div style="position:absolute;left:455.1px;top:358.3px;width:1px;height:64.2px;background:#f8f8fa"></div>
<div style="position:absolute;left:546.0px;top:358.3px;width:1px;height:64.2px;background:#f8f8fa"></div>
<div style="position:absolute;left:701.0px;top:358.3px;width:1px;height:64.2px;background:#f8f8fa"></div>
<div style="position:absolute;left:810.5px;top:358.3px;width:1px;height:64.2px;background:#f8f8fa"></div>
<div class="bg" style="left:154.6px;top:382.7px;width:38.599999999999994px;height:15.6px"><svg viewBox="0.50 0.50 15.00 15.00" preserveAspectRatio="none" style="position:absolute;left:3.2px;top:4.0px;width:6.2px;height:7.0px;color:#111;fill:#111;"><path fill-rule="evenodd" d="M8 .5a7.500 7.500 0 100 15 7.500 7.500 0 000-15zm0 2.800a4.700 4.700 0 110 9.400 4.700 4.700 0 010-9.400z"/><path d="M8.600 5.600L11.400 8l-2.800 2.400V8.800H5.500V7.200h3.100z" opacity=".8"/></svg><div style="position:absolute;left:12.6px;top:0px;width:12.8px;height:15.6px;background:#f5657d"></div><svg viewBox="1.00 0.50 12.00 15.00" preserveAspectRatio="none" style="position:absolute;left:16.2px;top:3.7px;width:5.6px;height:7.2px;color:#fff;fill:#fff;"><path d="M5 .5h4l.6 1.200H13v2H1v-2h3.400z"/><path fill-rule="evenodd" d="M1.800 4.500h10.400l-.7 10c0 .6-.5 1-1.100 1H3.600c-.6 0-1.100-.4-1.100-1zM4.600 6.500v7h.8v-7zm2 0v7h.8v-7zm2 0v7h.8v-7z"/></svg><svg viewBox="0.81 0.81 14.38 14.38" preserveAspectRatio="none" style="position:absolute;left:29.3px;top:3.6px;width:6.3px;height:6.9px;color:#111;fill:#111;"><path d="M6.300.8h3.400v5H13L8 10.800 3 5.800h3.300z"/><path d="M.8 11h4.200l1.600 1.600c.8.800 2 .8 2.800 0L11 11h4.200v4.200H.8z"/></svg></div>
<div style="position:absolute;left:212.5px;top:364px;font-size:9.7px;line-height:13px;color:#2f3a55;white-space:nowrap;letter-spacing:-1.00px;-webkit-text-stroke:0.2px currentColor;">NLET Demo</div>
<div style="position:absolute;left:212.5px;top:379px;font-size:8.0px;line-height:11px;color:#777b85;white-space:nowrap;letter-spacing:-0.07px;-webkit-text-stroke:0.2px currentColor;font-style:italic;">Software Developer</div>
<div style="position:absolute;left:212.5px;top:392px;font-size:8.0px;line-height:11px;color:#777b85;white-space:nowrap;letter-spacing:0.15px;-webkit-text-stroke:0.2px currentColor;font-style:italic;">(Management)</div>
<div style="position:absolute;left:212.5px;top:405px;font-size:8.0px;line-height:11px;color:#777b85;white-space:nowrap;letter-spacing:-0.32px;-webkit-text-stroke:0.2px currentColor;font-style:italic;">ID: nlet003</div>
<div style="position:absolute;left:341.6px;top:384px;font-size:8.8px;line-height:12px;color:#525869;white-space:nowrap;letter-spacing:-0.40px;-webkit-text-stroke:0.2px currentColor;">NLET Initiatives LLP</div>
<div style="position:absolute;left:460.5px;top:384px;font-size:9.0px;line-height:12px;color:#525869;white-space:nowrap;letter-spacing:-0.12px;-webkit-text-stroke:0.2px currentColor;">999999999</div>
<div style="position:absolute;left:551.3px;top:383px;font-size:9.4px;line-height:13px;color:#525869;white-space:nowrap;letter-spacing:-0.14px;-webkit-text-stroke:0.2px currentColor;">info@nlet.in</div>
<div style="position:absolute;left:706.0px;top:383px;font-size:9.4px;line-height:13px;color:#525869;white-space:nowrap;letter-spacing:-0.26px;-webkit-text-stroke:0.2px currentColor;">Employee</div>
<div style="position:absolute;left:815.3px;top:385.8px;width:24.5px;height:10.3px;background:#2cb978;border-radius:1.5px"></div>
<div style="position:absolute;left:817.6px;top:386px;font-size:6.8px;line-height:9px;color:#fff;white-space:nowrap;letter-spacing:-0.08px;font-weight:bold;">Active</div>
<div style="position:absolute;left:149.5px;top:422.3px;width:719.3px;height:64.2px;background:#f2f2f2"></div>
<div style="position:absolute;left:207.5px;top:422.3px;width:1px;height:64.2px;background:#f6f6f6"></div>
<div style="position:absolute;left:336.5px;top:422.3px;width:1px;height:64.2px;background:#f6f6f6"></div>
<div style="position:absolute;left:455.1px;top:422.3px;width:1px;height:64.2px;background:#f6f6f6"></div>
<div style="position:absolute;left:546.0px;top:422.3px;width:1px;height:64.2px;background:#f6f6f6"></div>
<div style="position:absolute;left:701.0px;top:422.3px;width:1px;height:64.2px;background:#f6f6f6"></div>
<div style="position:absolute;left:810.5px;top:422.3px;width:1px;height:64.2px;background:#f6f6f6"></div>
<div class="bg" style="left:154.6px;top:446.7px;width:38.599999999999994px;height:15.6px"><svg viewBox="0.50 0.50 15.00 15.00" preserveAspectRatio="none" style="position:absolute;left:3.2px;top:4.0px;width:6.2px;height:7.0px;color:#111;fill:#111;"><path fill-rule="evenodd" d="M8 .5a7.500 7.500 0 100 15 7.500 7.500 0 000-15zm0 2.800a4.700 4.700 0 110 9.400 4.700 4.700 0 010-9.400z"/><path d="M8.600 5.600L11.400 8l-2.800 2.400V8.800H5.500V7.200h3.100z" opacity=".8"/></svg><div style="position:absolute;left:12.6px;top:0px;width:12.8px;height:15.6px;background:#f5657d"></div><svg viewBox="1.00 0.50 12.00 15.00" preserveAspectRatio="none" style="position:absolute;left:16.2px;top:3.7px;width:5.6px;height:7.2px;color:#fff;fill:#fff;"><path d="M5 .5h4l.6 1.200H13v2H1v-2h3.400z"/><path fill-rule="evenodd" d="M1.800 4.500h10.400l-.7 10c0 .6-.5 1-1.100 1H3.600c-.6 0-1.100-.4-1.100-1zM4.600 6.500v7h.8v-7zm2 0v7h.8v-7zm2 0v7h.8v-7z"/></svg><svg viewBox="0.81 0.81 14.38 14.38" preserveAspectRatio="none" style="position:absolute;left:29.3px;top:3.6px;width:6.3px;height:6.9px;color:#111;fill:#111;"><path d="M6.300.8h3.400v5H13L8 10.800 3 5.800h3.300z"/><path d="M.8 11h4.200l1.600 1.600c.8.800 2 .8 2.800 0L11 11h4.200v4.200H.8z"/></svg></div>
<div style="position:absolute;left:212.5px;top:428px;font-size:9.7px;line-height:13px;color:#2f3a55;white-space:nowrap;letter-spacing:-0.60px;-webkit-text-stroke:0.2px currentColor;">Rajesh Sesma</div>
<div style="position:absolute;left:212.5px;top:443px;font-size:8.0px;line-height:11px;color:#777b85;white-space:nowrap;letter-spacing:-0.07px;-webkit-text-stroke:0.2px currentColor;font-style:italic;">Software Developer</div>
<div style="position:absolute;left:212.5px;top:456px;font-size:8.0px;line-height:11px;color:#777b85;white-space:nowrap;letter-spacing:0.15px;-webkit-text-stroke:0.2px currentColor;font-style:italic;">(Management)</div>
<div style="position:absolute;left:212.5px;top:469px;font-size:8.0px;line-height:11px;color:#777b85;white-space:nowrap;letter-spacing:-0.83px;-webkit-text-stroke:0.2px currentColor;font-style:italic;">ID: NLET002</div>
<div style="position:absolute;left:341.6px;top:448px;font-size:8.8px;line-height:12px;color:#525869;white-space:nowrap;letter-spacing:-0.40px;-webkit-text-stroke:0.2px currentColor;">NLET Initiatives LLP</div>
<div style="position:absolute;left:460.5px;top:448px;font-size:9.0px;line-height:12px;color:#525869;white-space:nowrap;letter-spacing:-0.12px;-webkit-text-stroke:0.2px currentColor;">9999999999</div>
<div style="position:absolute;left:551.3px;top:447px;font-size:9.4px;line-height:13px;color:#525869;white-space:nowrap;letter-spacing:-0.15px;-webkit-text-stroke:0.2px currentColor;">rajesh@nlet.in</div>
<div style="position:absolute;left:706.0px;top:447px;font-size:9.4px;line-height:13px;color:#525869;white-space:nowrap;letter-spacing:-0.18px;-webkit-text-stroke:0.2px currentColor;">Super Admin</div>
<div style="position:absolute;left:815.3px;top:449.8px;width:24.5px;height:10.3px;background:#2cb978;border-radius:1.5px"></div>
<div style="position:absolute;left:817.6px;top:450px;font-size:6.8px;line-height:9px;color:#fff;white-space:nowrap;letter-spacing:-0.08px;font-weight:bold;">Active</div>
<div style="position:absolute;left:149.5px;top:486.3px;width:719.3px;height:64.2px;background:#fff"></div>
<div style="position:absolute;left:207.5px;top:486.3px;width:1px;height:64.2px;background:#f8f8fa"></div>
<div style="position:absolute;left:336.5px;top:486.3px;width:1px;height:64.2px;background:#f8f8fa"></div>
<div style="position:absolute;left:455.1px;top:486.3px;width:1px;height:64.2px;background:#f8f8fa"></div>
<div style="position:absolute;left:546.0px;top:486.3px;width:1px;height:64.2px;background:#f8f8fa"></div>
<div style="position:absolute;left:701.0px;top:486.3px;width:1px;height:64.2px;background:#f8f8fa"></div>
<div style="position:absolute;left:810.5px;top:486.3px;width:1px;height:64.2px;background:#f8f8fa"></div>
<div class="bg" style="left:154.6px;top:510.7px;width:38.599999999999994px;height:15.6px"><svg viewBox="0.50 0.50 15.00 15.00" preserveAspectRatio="none" style="position:absolute;left:3.2px;top:4.0px;width:6.2px;height:7.0px;color:#111;fill:#111;"><path fill-rule="evenodd" d="M8 .5a7.500 7.500 0 100 15 7.500 7.500 0 000-15zm0 2.800a4.700 4.700 0 110 9.400 4.700 4.700 0 010-9.400z"/><path d="M8.600 5.600L11.400 8l-2.800 2.400V8.800H5.500V7.200h3.100z" opacity=".8"/></svg><div style="position:absolute;left:12.6px;top:0px;width:12.8px;height:15.6px;background:#f5657d"></div><svg viewBox="1.00 0.50 12.00 15.00" preserveAspectRatio="none" style="position:absolute;left:16.2px;top:3.7px;width:5.6px;height:7.2px;color:#fff;fill:#fff;"><path d="M5 .5h4l.6 1.200H13v2H1v-2h3.400z"/><path fill-rule="evenodd" d="M1.800 4.500h10.400l-.7 10c0 .6-.5 1-1.100 1H3.600c-.6 0-1.100-.4-1.100-1zM4.600 6.500v7h.8v-7zm2 0v7h.8v-7zm2 0v7h.8v-7z"/></svg><svg viewBox="0.81 0.81 14.38 14.38" preserveAspectRatio="none" style="position:absolute;left:29.3px;top:3.6px;width:6.3px;height:6.9px;color:#111;fill:#111;"><path d="M6.300.8h3.400v5H13L8 10.800 3 5.800h3.300z"/><path d="M.8 11h4.200l1.600 1.600c.8.800 2 .8 2.800 0L11 11h4.200v4.200H.8z"/></svg></div>
<div style="position:absolute;left:212.5px;top:492px;font-size:9.7px;line-height:13px;color:#2f3a55;white-space:nowrap;letter-spacing:-0.16px;-webkit-text-stroke:0.2px currentColor;">vijay vargiya</div>
<div style="position:absolute;left:212.5px;top:507px;font-size:8.0px;line-height:11px;color:#777b85;white-space:nowrap;letter-spacing:-0.07px;-webkit-text-stroke:0.2px currentColor;font-style:italic;">Software Developer</div>
<div style="position:absolute;left:212.5px;top:520px;font-size:8.0px;line-height:11px;color:#777b85;white-space:nowrap;letter-spacing:0.15px;-webkit-text-stroke:0.2px currentColor;font-style:italic;">(Management)</div>
<div style="position:absolute;left:212.5px;top:533px;font-size:8.0px;line-height:11px;color:#777b85;white-space:nowrap;letter-spacing:-0.32px;-webkit-text-stroke:0.2px currentColor;font-style:italic;">ID: nlet004</div>
<div style="position:absolute;left:341.6px;top:512px;font-size:8.8px;line-height:12px;color:#525869;white-space:nowrap;letter-spacing:-0.40px;-webkit-text-stroke:0.2px currentColor;">NLET Initiatives LLP</div>
<div style="position:absolute;left:460.5px;top:512px;font-size:9.0px;line-height:12px;color:#525869;white-space:nowrap;letter-spacing:-0.12px;-webkit-text-stroke:0.2px currentColor;">9999999999</div>
<div style="position:absolute;left:551.3px;top:511px;font-size:9.4px;line-height:13px;color:#525869;white-space:nowrap;letter-spacing:0.05px;-webkit-text-stroke:0.2px currentColor;">vijay@nlet.in</div>
<div style="position:absolute;left:706.0px;top:511px;font-size:9.4px;line-height:13px;color:#525869;white-space:nowrap;letter-spacing:-0.26px;-webkit-text-stroke:0.2px currentColor;">Employee</div>
<div style="position:absolute;left:815.3px;top:513.8px;width:24.5px;height:10.3px;background:#2cb978;border-radius:1.5px"></div>
<div style="position:absolute;left:817.6px;top:514px;font-size:6.8px;line-height:9px;color:#fff;white-space:nowrap;letter-spacing:-0.08px;font-weight:bold;">Active</div>
</div>
</body>
</html>
